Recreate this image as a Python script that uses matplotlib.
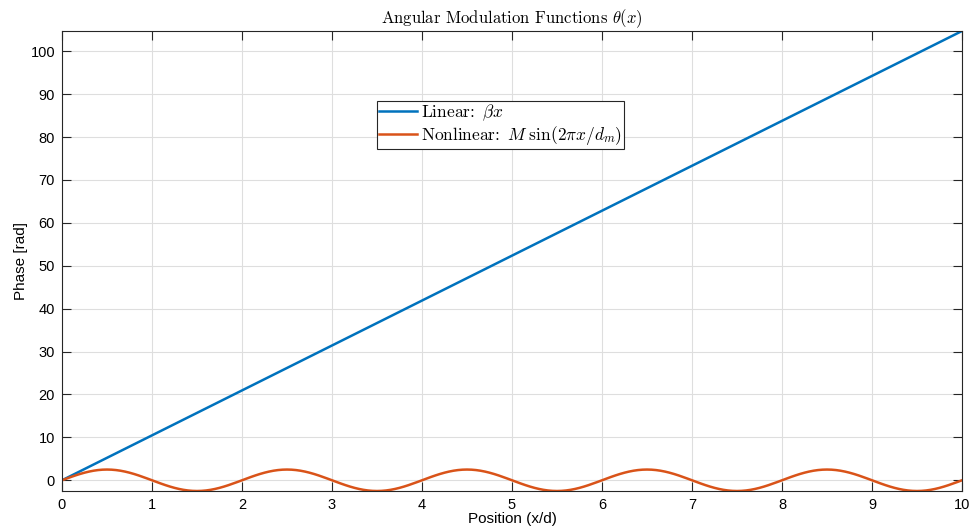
import numpy as np
import matplotlib
matplotlib.use("Agg")
import matplotlib.pyplot as plt

# Data
linear_x = [0.0, 10.0]
linear_y = [0.0, 104.72]

# one period (d_m = 2) of the nonlinear modulation, sampled every 0.05 in x
sine_period = [0.0, 0.391, 0.773, 1.135, 1.469, 1.768, 2.023, 2.228, 2.378, 2.469,
               2.5, 2.469, 2.378, 2.228, 2.023, 1.768, 1.469, 1.135, 0.773, 0.391,
               0.0, -0.391, -0.773, -1.135, -1.469, -1.768, -2.023, -2.228, -2.378, -2.469,
               -2.5, -2.469, -2.378, -2.228, -2.023, -1.768, -1.469, -1.135, -0.773, -0.391]
n_periods = 5
nonlin_y = sine_period * n_periods + [0.0]
nonlin_x = np.linspace(0, 10, len(nonlin_y))

xticks = list(range(0, 11))
yticks = list(range(0, 101, 10))

plt.rcParams['mathtext.fontset'] = 'cm'
plt.rcParams['font.family'] = ['Liberation Sans', 'DejaVu Sans']

fig = plt.figure(figsize=(9.75, 5.26), dpi=100)
ax = fig.add_axes([62/975, 1-491/526, 900/975, 460/526])

blue = '#0072BD'
orange = '#D95319'
ax.plot(linear_x, linear_y, color=blue, lw=1.8, label=r'Linear: $\,\beta x$')
ax.plot(nonlin_x, nonlin_y, color=orange, lw=1.8,
        label=r'Nonlinear: $\,M\;\sin(2\pi x/d_m)$')

ax.set_xlim(0, 10)
ax.set_ylim(-2.5, 104.72)
ax.set_xticks(xticks)
ax.set_yticks(yticks)
ax.grid(True, color='#dedede', lw=0.8)
ax.set_axisbelow(True)
for s in ax.spines.values():
    s.set_color('#262626')
    s.set_linewidth(0.8)
ax.tick_params(direction='in', length=6.5, width=0.8, color='#262626',
               top=True, right=True, labelsize=10.5, labelcolor='#000000', pad=5)

ax.set_xlabel('Position (x/d)', fontsize=11, labelpad=0)
ax.set_ylabel('Phase [rad]', fontsize=11, labelpad=2)
ax.set_title(r'Angular Modulation Functions $\theta(x)$', fontsize=12,
             family='cmr10', pad=6)

leg = ax.legend(loc='upper left', bbox_to_anchor=(0.35, 0.848), borderaxespad=0,
                fancybox=False, framealpha=1, edgecolor='#262626',
                prop={'family': 'cmr10', 'size': 12.5},
                handlelength=2.2, handletextpad=0.25, borderpad=0.1,
                labelspacing=0.05)
leg.get_frame().set_linewidth(0.8)

fig.savefig('out.png', dpi=100)
